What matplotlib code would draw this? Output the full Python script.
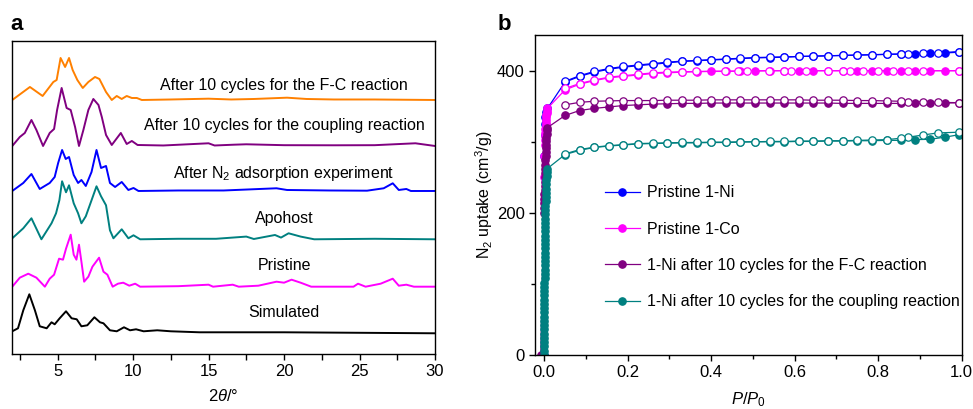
import matplotlib.pyplot as plt
from matplotlib.ticker import MultipleLocator

plt.rcParams['font.family'] = ['Liberation Sans', 'DejaVu Sans']
plt.rcParams['mathtext.fontset'] = 'custom'
plt.rcParams['mathtext.rm'] = 'Liberation Sans'
plt.rcParams['mathtext.it'] = 'Liberation Sans:italic'
plt.rcParams['mathtext.bf'] = 'Liberation Sans:bold'

# --- panel a: PXRD patterns (2theta, intensity above own baseline) ---
sim_x = [2.0, 2.38, 2.73, 3.13, 3.5, 3.82, 4.28, 4.6, 4.81, 5.14, 5.56, 5.93, 6.27, 6.58, 6.97,
         7.44, 7.81, 8.04, 8.47, 8.92, 9.4, 9.8, 10.2, 10.7, 11.6, 12.5, 14.4, 20.0, 30.0]
sim_y = [2, 5, 23, 39, 23, 7, 5, 11, 9, 15, 22, 15, 14, 7, 8,
         16, 11, 10, 3, 2, 6, 3, 4, 2, 3, 2, 1, 1, 0]

pr_x = [2.0, 2.5, 3.06, 3.6, 4.16, 4.48, 4.77, 5.1, 5.36, 5.56, 5.87, 6.07, 6.25, 6.42, 6.58, 6.76,
        7.04, 7.31, 7.75, 8.04, 8.3, 8.65, 9.0, 9.35, 9.75, 10.14, 10.47, 13.0, 15.0, 15.3, 16.6,
        17.0, 18.3, 19.5, 20.0, 20.5, 21.1, 21.8, 24.6, 24.9, 25.4, 26.4, 27.2, 27.6, 28.1, 28.6, 30.0]
pr_y = [0, 9, 13, 9, 0, 8, 12, 28, 27, 38, 52, 32, 27, 42, 25, 5,
        10, 20, 29, 15, 12, 0, 3, 4, 1, 3, 0, 0.5, 2, 0, 2,
        0, 1, 5, 4, 7, 4, 0, 0, 3, 0, 3, 8, 1, 2, 0, 0]

apo_x = [2.0, 2.73, 3.27, 3.93, 4.6, 4.9, 5.12, 5.3, 5.56, 5.76, 6.07, 6.36, 6.58, 6.87, 7.25, 7.58,
         7.88, 8.21, 8.47, 8.7, 9.25, 9.69, 10.03, 10.47, 13.0, 15.5, 17.5, 18.0, 19.4, 19.8, 20.3,
         21.1, 22.0, 26.0, 30.0]
apo_y = [1, 11, 21, 0, 16, 26, 39, 58, 47, 54, 36, 26, 16, 23, 39, 53,
         43, 34, 9, 1, 10, 1, 4, 0, 0.5, 0.5, 2.7, 0.3, 4.3, 1.7, 6,
         2.7, 0, 0.5, 0]

n2_x = [2.0, 2.73, 3.27, 3.82, 4.48, 4.81, 5.04, 5.3, 5.54, 5.76, 6.07, 6.36, 6.58, 6.87, 7.25, 7.58,
        7.88, 8.21, 8.47, 8.81, 9.25, 9.69, 10.03, 10.36, 13.0, 16.0, 19.5, 20.2, 23.0, 25.5, 26.6,
        27.2, 27.6, 28.1, 28.4, 30.0]
n2_y = [0, 8, 17, 2, 8, 14, 28, 41, 32, 34, 16, 8, 11, 5, 19, 41,
        23, 25, 8, 4, 9, 1, 3, 0, 0.5, 0.5, 2.7, 1.0, 0.5, 0.3, 2.7,
        7.7, 1, 2, 0, 0]

cpl_x = [2.0, 2.5, 2.83, 3.27, 3.6, 4.04, 4.48, 4.77, 4.97, 5.27, 5.6, 5.87, 6.16, 6.42, 6.71, 7.04,
         7.37, 7.71, 7.93, 8.21, 8.59, 9.19, 9.58, 9.92, 10.3, 12.0, 15.0, 15.4, 16.7, 17.5, 20.0,
         23.3, 26.0, 28.7, 30.0]
cpl_y = [0, 9, 13, 26, 16, 0, 13, 17, 36, 58, 38, 36, 19, 0, 16, 36,
         47, 41, 29, 11, 1, 13, 2, 5, 1, 0.5, 2.7, 0.5, 1.3, 1.7, 0.8,
         0.7, 0.8, 2.7, 0]

fcr_x = [2.0, 3.17, 4.01, 4.72, 4.94, 5.2, 5.5, 5.76, 6.0, 6.31, 6.67, 7.04, 7.48, 7.77, 8.21, 8.59,
         8.92, 9.25, 9.58, 9.92, 10.25, 10.58, 12.5, 15.0, 16.5, 18.0, 20.2, 21.5, 23.3, 26.0, 30.0]
fcr_y = [0, 13, 4, 18, 20, 42, 33, 42, 30, 20, 12, 18, 23, 21, 8, 0,
         4, 1, 4, 2, 2, 0, 0.5, 1.3, 0.5, 1, 2.3, 1, 0.5, 0.5, 0]

xrd_labels = ["Simulated", "Pristine", "Apohost", "After N$_2$ adsorption experiment",
              "After 10 cycles for the coupling reaction", "After 10 cycles for the F-C reaction"]
xrd_colors = ["black", "#ff00ff", "#008080", "#0000ff", "#800080", "#ff8000"]
xrd_offsets = [20.7, 67.3, 114.7, 163, 208, 254]
label_y = [41, 88, 135, 180, 228, 268]

# --- panel b: N2 isotherms ---
p_ads = [0.05, 0.085, 0.12, 0.155, 0.19, 0.225, 0.26, 0.295, 0.33, 0.365, 0.4, 0.435, 0.47, 0.505,
         0.54, 0.575, 0.61, 0.645, 0.68, 0.715, 0.75, 0.785, 0.82, 0.855, 0.888, 0.924, 0.96, 0.994]
p_des = [0.994, 0.943, 0.907, 0.872, 0.854, 0.82, 0.785, 0.75, 0.715, 0.68, 0.645, 0.61, 0.575, 0.54,
         0.505, 0.47, 0.435, 0.4, 0.365, 0.33, 0.295, 0.26, 0.225, 0.19, 0.155, 0.12, 0.085, 0.05]

ni_low_p = [0.0, 0.0005, 0.001, 0.002, 0.003, 0.005, 0.008]
ni_low = [0, 280, 310, 325, 335, 342, 347]
ni_ads = [384, 392, 398, 402, 405, 407, 409, 411, 413, 414, 415, 416, 417, 418,
          418.5, 419, 420, 420.5, 421, 421.5, 422, 422.5, 423, 423.5, 424, 424.5, 425, 426]
ni_des = [427, 425, 424.5, 424, 423.5, 423, 422.5, 422, 421.5, 421, 420.5, 420, 419.5, 419,
          418.5, 417.5, 416.5, 415.5, 414.5, 413.5, 412, 410, 408, 406, 403, 399, 393, 385]

co_low_p = [-0.006, 0.0, 0.0005, 0.001, 0.0015, 0.002, 0.0025, 0.003, 0.0035, 0.004, 0.0045, 0.005,
            0.0055, 0.006, 0.007, 0.008]
co_low = [0, 250, 280, 295, 302, 308, 313, 318, 323, 327, 331, 335, 338, 341, 344, 347]
co_ads = [373, 381, 386, 390, 392, 394, 396, 397, 398, 398.5, 399, 399, 399.5, 399.5,
          400, 400, 400, 400, 400, 400, 400, 400, 400, 400, 400, 400, 400, 400]
co_des_p = [0.994, 0.907, 0.872, 0.836, 0.8, 0.764, 0.733, 0.715, 0.681, 0.627, 0.592, 0.575, 0.539,
            0.485, 0.465, 0.434, 0.364, 0.33, 0.295, 0.26, 0.226, 0.19, 0.156, 0.12, 0.085, 0.05]
co_des = [400, 400, 400, 400, 400, 400, 400, 400, 400, 400, 400, 400, 400,
          400, 399.5, 399.5, 399, 398.5, 398, 397, 395, 393, 391, 387, 382, 375]

fc_low_p = [-0.008, -0.001, -0.0005, 0.0, 0.0003, 0.0006, 0.0009, 0.0012, 0.0015, 0.0018, 0.0021,
            0.0024, 0.0027, 0.003, 0.0034, 0.0038, 0.0042, 0.0046, 0.005, 0.0055, 0.006, 0.007, 0.008]
fc_low = [0, 200, 207, 214, 220, 226, 232, 238, 244, 250, 256,
          262, 268, 274, 280, 286, 291, 296, 301, 306, 311, 316, 320]
fc_ads = [337, 344, 347, 349, 351, 352, 353, 353.5, 354, 354, 354.5, 354.5, 354.5, 354.5,
          354.5, 354.5, 354.5, 354.5, 354.5, 354, 354, 354, 354, 354, 354, 354.5, 354.5, 355]
fc_des = [355, 355.5, 356, 356.5, 357, 357.5, 358, 358, 358.5, 358.5, 358.5, 359, 359, 359,
          359, 359, 359, 359, 358.5, 358.5, 358.5, 358, 358, 358, 357.5, 357, 355.5, 352]

cp_low_p = [0.0, 0.0, 0.0001, 0.0001, 0.0002, 0.0002, 0.0003, 0.0003, 0.0004, 0.0004, 0.0005, 0.0005,
            0.0006, 0.0006, 0.0007, 0.0007, 0.0008, 0.0008, 0.0009, 0.0009, 0.001, 0.001, 0.0011,
            0.0012, 0.0013, 0.0014, 0.0015, 0.0016, 0.0017, 0.0018, 0.002, 0.0022, 0.0024, 0.0026,
            0.0028, 0.003, 0.0033, 0.0036, 0.004, 0.0045, 0.005, 0.0055, 0.006, 0.0065, 0.007]
cp_low = [0, 6, 12, 18, 24, 30, 36, 42, 48, 54, 60, 66,
          72, 78, 84, 90, 96, 102, 108, 114, 120, 126, 132,
          138, 144, 150, 156, 162, 168, 174, 180, 186, 192, 198,
          204, 210, 216, 222, 228, 234, 240, 246, 252, 257, 262]
cp_ads = [282, 288, 292, 294, 295.5, 297, 297.5, 298, 298.5, 298.5, 299, 299, 299.5, 300,
          300, 300, 300.5, 300.5, 301, 301, 301.5, 301.5, 302, 302, 303, 303.5, 306.5, 310]
cp_des = [313.5, 312.5, 309.5, 306.5, 305, 303, 302.5, 302, 301.5, 301.5, 301, 301, 300.5, 300.5,
          300, 300, 299.5, 299.5, 299, 299, 298.5, 298, 297.5, 296, 294.5, 292.5, 289, 283]

fig = plt.figure(figsize=(9.73, 4.09), dpi=100)

# --- a ---
ax1 = fig.add_axes([0.0126, 0.1345, 0.4345, 0.7653])
series = [(sim_x, sim_y), (pr_x, pr_y), (apo_x, apo_y), (n2_x, n2_y), (cpl_x, cpl_y), (fcr_x, fcr_y)]
for (x, y), c, off, lab, ly in zip(series, xrd_colors, xrd_offsets, xrd_labels, label_y):
    ax1.plot(x, [v + off for v in y], color=c, lw=1.4)
    ax1.text(20, ly, lab, ha='center', va='center', fontsize=11.5)
ax1.set_xlim(2, 30)
ax1.set_ylim(0, 313)
ax1.set_yticks([])
ax1.xaxis.set_major_locator(MultipleLocator(5))
ax1.xaxis.set_minor_locator(MultipleLocator(2.5))
ax1.tick_params(axis='x', which='both', direction='out', length=4, width=1, labelsize=12)
ax1.set_xlabel(r'2$\theta$/°', fontsize=12, labelpad=6)
for s in ax1.spines.values():
    s.set_linewidth(1.0)
fig.text(0.011, 0.94, 'a', fontsize=16, fontweight='bold', va='center')

# --- b ---
ax2 = fig.add_axes([0.5498, 0.132, 0.4394, 0.782])
iso = [
    ("Pristine 1-Ni", "#0000ff", ni_low_p, ni_low, ni_ads, p_des, ni_des),
    ("Pristine 1-Co", "#ff00ff", co_low_p, co_low, co_ads, co_des_p, co_des),
    ("1-Ni after 10 cycles for the F-C reaction", "#800080", fc_low_p, fc_low, fc_ads, p_des, fc_des),
    ("1-Ni after 10 cycles for the coupling reaction", "#008080", cp_low_p, cp_low, cp_ads, p_des, cp_des),
]
handles = []
for lab, c, lp, lv, av, dp, dv in iso:
    h, = ax2.plot(lp + p_ads, lv + av, '-o', color=c, lw=0.9, ms=5.3, mec=c, mfc=c, mew=0.9, label=lab)
    ax2.plot(dp, dv, '-o', color=c, lw=0.9, ms=5.3, mec=c, mfc='white', mew=0.9)
    handles.append(h)
ax2.set_xlim(-0.022, 1.002)
ax2.set_ylim(0, 450)
ax2.xaxis.set_major_locator(MultipleLocator(0.2))
ax2.xaxis.set_minor_locator(MultipleLocator(0.1))
ax2.yaxis.set_major_locator(MultipleLocator(200))
ax2.yaxis.set_minor_locator(MultipleLocator(100))
ax2.xaxis.set_major_formatter(plt.FuncFormatter(lambda v, p: f"{v:.1f}"))
ax2.tick_params(which='major', direction='out', length=4, width=1, labelsize=12)
ax2.tick_params(which='minor', direction='out', length=3, width=1)
ax2.set_xlabel(r'$P/P_0$', fontsize=12, labelpad=7)
ax2.set_ylabel(r'N$_2$ uptake (cm$^3$/g)', fontsize=11.5, labelpad=1)
for s in ax2.spines.values():
    s.set_linewidth(1.0)
ax2.legend(handles=handles, loc='upper left', bbox_to_anchor=(0.163, 0.53), frameon=False,
           fontsize=11.5, handlelength=2.2, handletextpad=0.45, labelspacing=1.33,
           borderpad=0, borderaxespad=0)
fig.text(0.511, 0.94, 'b', fontsize=16, fontweight='bold', va='center')

fig.savefig('out.png', dpi=100)
